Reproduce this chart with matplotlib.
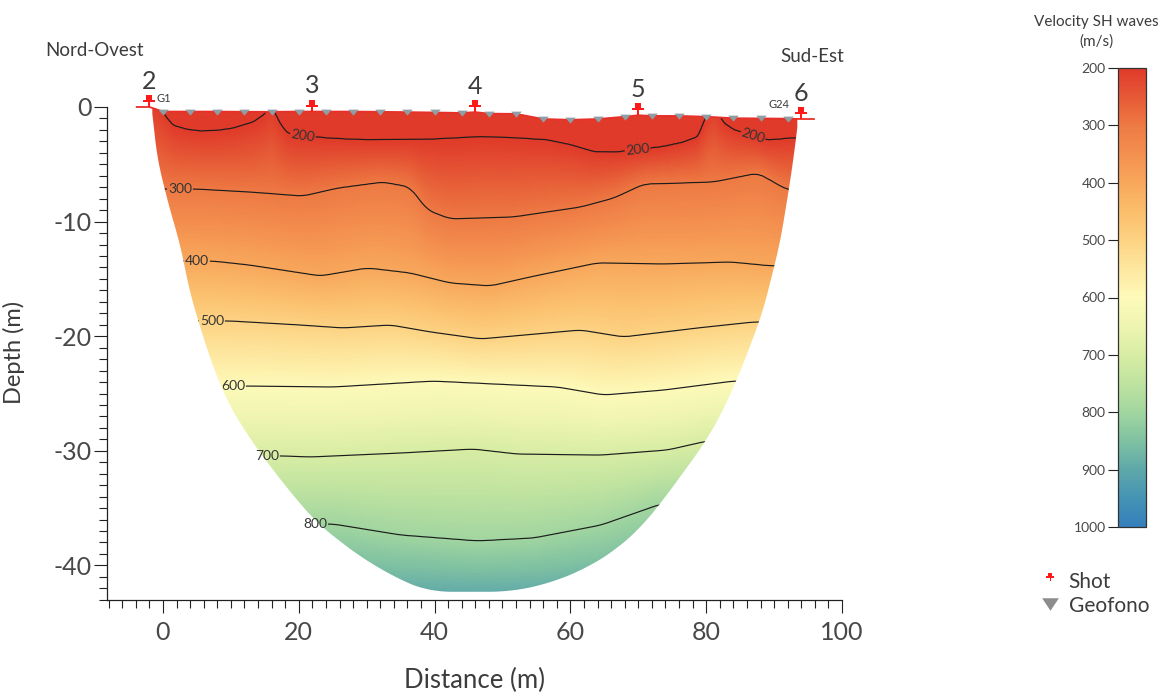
import numpy as np
import matplotlib
matplotlib.use("Agg")
import matplotlib.pyplot as plt
from matplotlib.colors import LinearSegmentedColormap, Normalize
from matplotlib.path import Path
from matplotlib.patches import Polygon
from matplotlib.lines import Line2D
from matplotlib.ticker import FixedLocator
import matplotlib.cm as cm

plt.rcParams['font.family'] = ['Lato', 'DejaVu Sans']
plt.rcParams['axes.unicode_minus'] = False

TEXT = '#3c3c3c'

# ---------------- acquisition geometry ----------------
geophone_x = [0, 4, 8, 12, 16, 20, 24, 28, 32, 36, 40, 44,
              48, 52, 56, 60, 64, 68, 72, 76, 80, 84, 88, 92]
geophone_z = [-0.40, -0.40, -0.40, -0.42, -0.42, -0.40, -0.40, -0.40, -0.42, -0.45, -0.48, -0.52,
              -0.58, -0.60, -1.05, -1.12, -1.05, -0.85, -0.78, -0.78, -0.85, -0.98, -1.00, -1.02]
shot_x = [-2, 22, 46, 70, 94]
shot_z = [0.0, -0.40, -0.45, -0.72, -1.05]
shot_id = ['2', '3', '4', '5', '6']
line_end_x = [-4, 96]
line_end_z = [0.0, -1.05]

# ---------------- investigated section outline ----------------
left_edge_x = [-1.66, -0.81, 1.03, 2.50, 3.98, 5.45, 7.36, 9.38, 11.34, 13.25, 17.67, 22.64, 29.01, 34.90, 39.32]
left_edge_z = [-0.11, -4.62, -8.99, -11.89, -16.23, -19.17, -22.66, -25.57, -27.57, -29.32, -32.81, -36.30, -39.24, -41.27, -42.30]
right_edge_x = [51.10, 57.00, 62.50, 67.00, 70.50, 73.20, 76.50, 79.97, 82.52, 84.49, 86.45, 88.41, 89.88, 90.87, 92.09, 92.83, 93.52]
right_edge_z = [-42.30, -41.55, -40.20, -38.50, -36.60, -34.64, -32.00, -29.15, -26.44, -23.82, -20.92, -17.71, -14.22, -11.87, -7.50, -4.62, -1.31]

# ---------------- velocity isolines (m/s): distance and depth ----------------
iso200_x = [-2.0, -0.5, 0.5, 1.5, 3.5, 5.5, 8.0, 10.3, 13.3, 15.0, 15.8, 16.6, 17.2, 18.3, 20.6, 25.0,
            30.1, 36.0, 40.0, 46.8, 52.0, 56.6, 60.0, 63.4, 66.5, 69.9, 73.7, 76.5, 78.8, 79.6, 80.2,
            81.0, 81.8, 82.6, 84.1, 86.9, 89.1, 92.9, 95.0]
iso200_z = [0.8, 0.0, -0.9, -1.6, -1.95, -2.1, -2.05, -1.85, -1.3, -0.6, 0.2, -0.6, -1.4, -2.27, -2.53, -2.75,
            -2.88, -2.85, -2.8, -2.59, -2.7, -2.88, -3.3, -3.9, -3.95, -3.75, -3.46, -3.1, -2.59, -1.4, -0.5,
            0.2, -0.6, -1.4, -2.0, -2.5, -2.9, -2.7, -2.7]
iso300_x = [5.0, 12.8, 20.6, 25.7, 32.4, 36.4, 38.9, 42.3, 51.6, 61.5, 66.4, 70.8, 81.1, 87.6, 92.0]
iso300_z = [-7.16, -7.42, -7.77, -7.07, -6.54, -6.98, -8.99, -9.77, -9.60, -8.73, -7.94, -6.72, -6.54, -5.76, -7.24]
iso400_x = [7.4, 12.8, 23.2, 30.1, 36.4, 42.3, 48.2, 54.1, 64.0, 73.7, 83.6, 89.5]
iso400_z = [-13.45, -13.80, -14.75, -14.05, -14.49, -15.36, -15.62, -14.83, -13.60, -13.70, -13.53, -13.87]
iso500_x = [9.9, 20.2, 26.5, 33.5, 39.4, 46.8, 61.5, 67.8, 78.8, 87.0]
iso500_z = [-18.67, -19.02, -19.28, -19.02, -19.63, -20.24, -19.46, -20.07, -19.28, -18.76]
iso600_x = [12.8, 25.1, 39.8, 58.1, 64.9, 73.7, 84.1]
iso600_z = [-24.35, -24.43, -23.91, -24.43, -25.13, -24.70, -23.91]
iso700_x = [17.7, 21.7, 35.0, 45.7, 52.2, 64.5, 74.3, 80.1]
iso700_z = [-30.45, -30.54, -30.19, -29.84, -30.28, -30.37, -29.93, -29.15]
iso800_x = [25.1, 35.0, 46.3, 54.6, 64.5, 73.3]
iso800_z = [-36.39, -37.35, -37.87, -37.61, -36.48, -34.64]
top_velocity = 170
bottom_velocity = 915

# contour label anchor points (distance, depth)
label_x = [20.6, 69.9, 86.9, 2.5, 5.0, 7.2, 10.3, 15.3, 22.4]
label_z = [-2.53, -3.75, -2.50, -7.30, -13.6, -18.9, -24.4, -30.3, -36.1]

# colour scale
scale_values = [200, 250, 300, 350, 400, 450, 500, 550, 600, 650, 700, 750, 800, 850, 900, 950, 1000]
scale_colors = ['#e03a2a', '#e65a36', '#ee7a44', '#f49050', '#f8a85c', '#fbbe6c', '#fdd383', '#fde79f',
                '#fefab9', '#eef5b0', '#d8eda4', '#bfe3a0', '#a2d6a0', '#80c2a2', '#5fa8aa', '#4594b4', '#3580bd']


# ---------------- helpers ----------------
def smooth(y, w):
    if w <= 1:
        return y
    pad = w // 2
    yp = np.pad(y, (pad, w - 1 - pad), mode='edge')
    return np.convolve(yp, np.ones(w) / w, mode='valid')


def rounded_curve(xs, zs, n=600, w=21, sx=6.79, sz=11.46):
    """Resample a polyline evenly (in screen-like units) and round its corners."""
    xs, zs = np.asarray(xs, float), np.asarray(zs, float)
    seg = np.hypot(np.diff(xs) * sx, np.diff(zs) * sz)
    t = np.concatenate([[0], np.cumsum(seg)])
    tt = np.linspace(0, t[-1], n)
    return smooth(np.interp(tt, t, xs), w), smooth(np.interp(tt, t, zs), w)


# ---------------- build the velocity grid ----------------
xg = np.linspace(-4, 96, 401)
zg = np.linspace(-43.5, 1.5, 451)
isolines = [(200, iso200_x, iso200_z, 3), (300, iso300_x, iso300_z, 9), (400, iso400_x, iso400_z, 9),
            (500, iso500_x, iso500_z, 9), (600, iso600_x, iso600_z, 9), (700, iso700_x, iso700_z, 9),
            (800, iso800_x, iso800_z, 9)]
knot_depths = [np.full_like(xg, zg[-1])]
knot_values = [top_velocity]
for lvl, xs, zs, w in isolines:
    knot_depths.append(smooth(np.interp(xg, xs, zs), w))
    knot_values.append(lvl)
knot_depths.append(np.full_like(xg, zg[0]))
knot_values.append(bottom_velocity)
D = np.array(knot_depths)
vals = np.array(knot_values, dtype=float)
V = np.empty((zg.size, xg.size))
for j in range(xg.size):
    V[:, j] = np.interp(zg, D[::-1, j], vals[::-1])

vmin, vmax = 200, 1000
cmap = LinearSegmentedColormap.from_list(
    'vs', [((v - vmin) / (vmax - vmin), c) for v, c in zip(scale_values, scale_colors)])
norm = Normalize(vmin=vmin, vmax=vmax)

# ---------------- figure ----------------
W, H = 1163, 693
fig = plt.figure(figsize=(W / 100, H / 100), dpi=100)
ax = fig.add_axes([107.3 / W, (H - 599.8) / H, (842 - 107.3) / W, (599.8 - 15.3) / H])

# outline of the section: rounded sides and bottom, topographic surface on top
surf_x = np.array(shot_x + geophone_x + line_end_x, dtype=float)
surf_z = np.array(shot_z + geophone_z + line_end_z, dtype=float)
order = np.argsort(surf_x)
surf_x, surf_z = surf_x[order], surf_z[order]
bowl_x, bowl_z = rounded_curve(left_edge_x + right_edge_x, left_edge_z + right_edge_z)
inside = (surf_x > bowl_x[0]) & (surf_x < bowl_x[-1])
top_x = np.concatenate([[bowl_x[-1]], surf_x[inside][::-1], [bowl_x[0]]])
top_z = np.interp(top_x, surf_x, surf_z)
outline = np.column_stack([np.concatenate([bowl_x, top_x]), np.concatenate([bowl_z, top_z])])
clip = Polygon(outline, closed=True, transform=ax.transData, facecolor='none', edgecolor='none')

im = ax.imshow(V, origin='lower', extent=[xg[0], xg[-1], zg[0], zg[-1]], cmap=cmap, norm=norm,
               aspect='auto', interpolation='bilinear', zorder=1)
im.set_clip_path(clip)

levels = [200, 300, 400, 500, 600, 700, 800]
cs = ax.contour(xg, zg, V, levels=levels, colors='#1c1c1c', linewidths=0.85, zorder=2)
ax.clabel(cs, levels, manual=list(zip(label_x, label_z)), inline=True, fmt='%d',
          fontsize=10, colors='#333333', inline_spacing=2)
cs.set_clip_path(clip)
ax.set_xlim(-8.2, 100)
ax.set_ylim(-43, 8)

# survey line, geophones and shots
ax.plot(surf_x, surf_z, color='#e8302a', lw=1.3, zorder=3, solid_capstyle='butt')

geo_marker = Path([(-1, 0.55), (1, 0.55), (0, -0.6), (-1, 0.55)],
                  [Path.MOVETO, Path.LINETO, Path.LINETO, Path.CLOSEPOLY])
ax.plot(geophone_x, geophone_z, linestyle='none', marker=geo_marker, markersize=7.5,
        color='#8e9ea4', markeredgewidth=0, zorder=4)


def rect(x0, y0, x1, y1):
    return Path([(x0, y0), (x1, y0), (x1, y1), (x0, y1), (x0, y0)],
                [Path.MOVETO, Path.LINETO, Path.LINETO, Path.LINETO, Path.CLOSEPOLY])


pin_marker = Path.make_compound_path(rect(-0.27, 0.56, 0.27, 1.0),
                                     rect(-0.5, 0.42, 0.5, 0.58),
                                     rect(-0.06, 0.0, 0.06, 0.43))
ax.plot(shot_x, shot_z, linestyle='none', marker=pin_marker, markersize=17,
        color='#ff1a1a', markeredgewidth=0, zorder=5)
for sx, sz, sid in zip(shot_x, shot_z, shot_id):
    ax.annotate(sid, xy=(sx, sz), xytext=(0, 18.5), textcoords='offset points',
                ha='center', va='center', fontsize=18, color=TEXT, zorder=6)

ax.annotate('G1', xy=(geophone_x[0], geophone_z[0]), xytext=(-5, 9.5), textcoords='offset points',
            ha='left', va='center', fontsize=8, color=TEXT)
ax.annotate('G24', xy=(geophone_x[-1], geophone_z[-1]), xytext=(1.5, 10.5), textcoords='offset points',
            ha='right', va='center', fontsize=8, color=TEXT)

# axes styling
for side in ('top', 'right'):
    ax.spines[side].set_visible(False)
ax.spines['left'].set_bounds(-43, 0)
for side in ('left', 'bottom'):
    ax.spines[side].set_linewidth(0.9)
    ax.spines[side].set_color('#222222')
ax.xaxis.set_major_locator(FixedLocator([0, 20, 40, 60, 80, 100]))
ax.xaxis.set_minor_locator(FixedLocator(np.arange(-8, 101, 2)))
ax.yaxis.set_major_locator(FixedLocator([0, -10, -20, -30, -40]))
ax.yaxis.set_minor_locator(FixedLocator(np.arange(-43, 1, 1)))
ax.tick_params(which='major', length=9.5, width=0.8, color='#222222', labelsize=18, labelcolor='#484848')
ax.tick_params(which='minor', length=5.5, width=0.8, color='#222222')
ax.tick_params(axis='x', which='major', pad=6)
ax.tick_params(axis='y', which='major', pad=2)
ax.set_ylabel('Depth (m)', fontsize=17, color=TEXT)
ax.yaxis.set_label_coords((25 - 107.3) / 734.7, (599.8 - 352) / 584.5)
fig.text(475 / W, 1 - 680 / H, 'Distance (m)', ha='center', va='center', fontsize=18.5, color=TEXT)

fig.text(45 / W, 1 - 50 / H, 'Nord-Ovest', ha='left', va='center', fontsize=13.5, color=TEXT)
fig.text(780 / W, 1 - 57 / H, 'Sud-Est', ha='left', va='center', fontsize=13.5, color=TEXT)

# colour bar
cax = fig.add_axes([1118 / W, (H - 527) / H, 28 / W, 459 / H])
cb = fig.colorbar(cm.ScalarMappable(norm=norm, cmap=cmap), cax=cax)
cb.set_ticks([200, 300, 400, 500, 600, 700, 800, 900, 1000])
cax.invert_yaxis()
cax.yaxis.set_ticks_position('left')
cax.tick_params(length=7, width=0.8, pad=2, labelsize=10, labelcolor='#484848', color='#222222')
cb.outline.set_edgecolor('#333333')
cb.outline.set_linewidth(0.9)
fig.text(1096 / W, 1 - 32 / H, 'Velocity SH waves\n(m/s)', ha='center', va='center',
         fontsize=11, color=TEXT, linespacing=1.45)

# legend
legend_pin = Line2D([], [], linestyle='none', marker=pin_marker, markersize=12,
                    color='#ff1a1a', markeredgewidth=0)
legend_geo = Line2D([], [], linestyle='none',
                    marker=Path([(-1, 0.75), (1, 0.75), (0, -0.75), (-1, 0.75)],
                                [Path.MOVETO, Path.LINETO, Path.LINETO, Path.CLOSEPOLY]),
                    markersize=12, color='#8c8c8c', markeredgewidth=0)
fig.legend([legend_pin, legend_geo], ['Shot', 'Geofono'], loc='upper left',
           bbox_to_anchor=(1029 / W, 1 - 562 / H), frameon=False, fontsize=15,
           handlelength=1.0, handletextpad=0.4, labelspacing=0.15, borderpad=0, labelcolor=TEXT)

fig.savefig('out.png', dpi=100)
